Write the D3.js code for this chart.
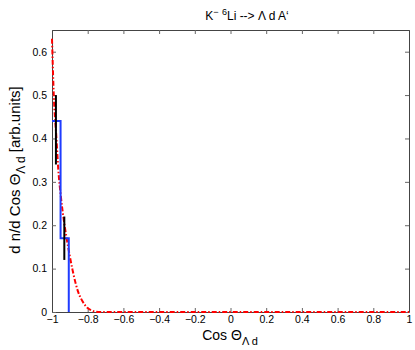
<!DOCTYPE html>
<html><head><meta charset="utf-8">
<script src="https://cdn.jsdelivr.net/npm/d3@7"></script>
<style>body{margin:0;background:#fff}svg{font-family:"Liberation Sans",Arial,sans-serif}</style>
</head><body><svg id="c" width="415" height="350"></svg>
<script>
const xTicks=[-1,-0.8,-0.6,-0.4,-0.2,0,0.2,0.4,0.6,0.8,1];
const yTicks=[0,0.1,0.2,0.3,0.4,0.5,0.6];
const binEdges=[-1,-0.952,-0.906];
const binValues=[0.44,0.17];
const errX=[-0.978,-0.931];
const errLo=[0.34,0.12];
const errHi=[0.50,0.22];
const fitX=[-1,-0.99,-0.975,-0.965,-0.95,-0.935,-0.92,-0.9,-0.885,-0.87,-0.855,-0.835,-0.815,-0.8,-0.78,-0.76,-0.74,1];
const fitY=[0.63,0.5,0.40,0.33,0.265,0.215,0.175,0.128,0.097,0.07,0.048,0.029,0.016,0.009,0.004,0.001,0,0];

const svg=d3.select("#c");
const L=52,R=409,T=30,B=312;
const x=d3.scaleLinear().domain([-1,1]).range([L,R]);
const y=d3.scaleLinear().domain([0,0.65]).range([B,T]);
const fmt=d=>d<0?"\u2212"+(-d):String(d);

svg.append("rect").attr("x",L).attr("y",T).attr("width",R-L).attr("height",B-T).attr("fill","#fff");

const gb=svg.append("g").attr("transform",`translate(0,${B})`).call(d3.axisBottom(x).tickValues(xTicks).tickFormat(fmt).tickSizeInner(-4).tickSizeOuter(0).tickPadding(4));
const gt=svg.append("g").attr("transform",`translate(0,${T})`).call(d3.axisTop(x).tickValues(xTicks).tickFormat("").tickSizeInner(-4).tickSizeOuter(0));
const gl=svg.append("g").attr("transform",`translate(${L},0)`).call(d3.axisLeft(y).tickValues(yTicks).tickFormat(d3.format("")).tickSizeInner(-4).tickSizeOuter(0).tickPadding(5));
const gr=svg.append("g").attr("transform",`translate(${R},0)`).call(d3.axisRight(y).tickValues(yTicks).tickFormat("").tickSizeInner(-4).tickSizeOuter(0));
[gb,gt,gl,gr].forEach(g=>{g.selectAll("path.domain").attr("stroke","#444");g.selectAll("line").attr("stroke","#666");g.selectAll("text").attr("font-size",10.5).attr("fill","#000").attr("font-family","Liberation Sans, Arial, sans-serif");});

const fit=fitX.map((v,i)=>[v,fitY[i]]);
svg.append("path").datum(fit).attr("fill","none").attr("stroke","#f00").attr("stroke-width",2)
 .attr("stroke-dasharray","5,2,1.5,2")
 .attr("d",d3.line().x(d=>x(d[0])).y(d=>y(d[1])).curve(d3.curveMonotoneX));

const pts=[[binEdges[0],binValues[0]]];
for(let i=0;i<binValues.length;i++){pts.push([binEdges[i+1],binValues[i]]);if(i+1<binValues.length)pts.push([binEdges[i+1],binValues[i+1]]);}
pts.push([binEdges[binEdges.length-1],0]);
svg.append("path").datum(pts).attr("fill","none").attr("stroke","#1f3cff").attr("stroke-width",2)
 .attr("d",d3.line().x(d=>x(d[0])).y(d=>y(d[1])));

svg.selectAll("line.err").data(errX).enter().append("line").attr("class","err")
 .attr("x1",d=>x(d)).attr("x2",d=>x(d)).attr("y1",(d,i)=>y(errLo[i])).attr("y2",(d,i)=>y(errHi[i]))
 .attr("stroke","#000").attr("stroke-width",2);

const t=svg.append("text").attr("x",247).attr("y",20).attr("text-anchor","middle").attr("font-size",12);
t.append("tspan").text("K");
t.append("tspan").attr("dy",-5).attr("font-size",9).text("\u2212");
t.append("tspan").attr("dy",5).text(" ");
t.append("tspan").attr("dy",-5).attr("font-size",9).text("6");
t.append("tspan").attr("dy",5).text("Li --> \u039B d A\u2018");

const xl=svg.append("text").attr("x",230).attr("y",340).attr("text-anchor","middle").attr("font-size",14);
xl.append("tspan").text("Cos \u0398");
xl.append("tspan").attr("dy",5).attr("font-size",11).text("\u039B d");

const yl=svg.append("text").attr("transform","translate(20,170) rotate(-90)").attr("text-anchor","middle").attr("font-size",15);
yl.append("tspan").text("d n/d Cos \u0398");
yl.append("tspan").attr("dy",5).attr("font-size",12).text("\u039B d");
yl.append("tspan").attr("dy",-5).text(" [arb.units]");
</script></body></html>
